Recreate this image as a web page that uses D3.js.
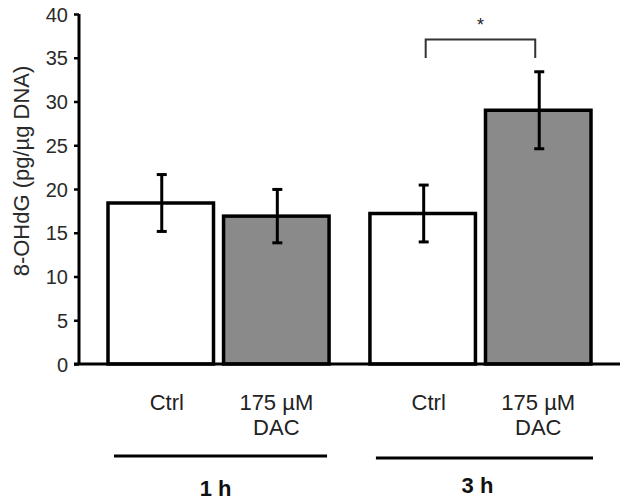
<!DOCTYPE html>
<html><head><meta charset="utf-8">
<script src="https://cdn.jsdelivr.net/npm/d3@7"></script>
<style>body{margin:0;background:#fff}svg{display:block}text{font-family:"Liberation Sans",Arial,sans-serif}</style>
</head><body>
<svg id="c" width="629" height="504"></svg>
<script>
const groups = ["1 h", "3 h"];
const treatments = ["Ctrl", "175 µM DAC"];
const treatmentLines = [["Ctrl"], ["175 µM", "DAC"]];
const means = [[18.4, 16.9], [17.2, 29.0]];
const errors = [[3.25, 3.05], [3.25, 4.4]];
const yTicks = [0, 5, 10, 15, 20, 25, 30, 35, 40];
const fills = ["#ffffff", "#8a8a8a"];
const yLabel = "8-OHdG (pg/µg DNA)";

const svg = d3.select("#c");
const y = d3.scaleLinear().domain([0, 40]).range([364, 14]);
const x0 = d3.scaleBand().domain(groups).range([108, 591]).paddingInner(0.156).paddingOuter(0);
const x1 = d3.scaleBand().domain(treatments).range([0, x0.bandwidth()]).paddingInner(0.087).paddingOuter(0);

// bars
const data = [];
groups.forEach((g, gi) => treatments.forEach((t, ti) => data.push({g, t, ti, v: means[gi][ti], e: errors[gi][ti]})));
const bx = d => x0(d.g) + x1(d.t);
svg.selectAll("rect.bar").data(data).join("rect").attr("class", "bar")
  .attr("x", bx).attr("y", d => y(d.v))
  .attr("width", x1.bandwidth()).attr("height", d => y(0) - y(d.v))
  .attr("fill", d => fills[d.ti]).attr("stroke", "#000").attr("stroke-width", 3.5);

// error bars
const eb = svg.selectAll("g.err").data(data).join("g").attr("class", "err")
  .attr("stroke", "#000").attr("stroke-width", 3);
const ex = d => bx(d) + x1.bandwidth()/2 + 1;
eb.append("line").attr("x1", ex).attr("x2", ex)
  .attr("y1", d => y(d.v + d.e)).attr("y2", d => y(d.v - d.e));
eb.append("line").attr("x1", d => ex(d) - 5).attr("x2", d => ex(d) + 5)
  .attr("y1", d => y(d.v + d.e)).attr("y2", d => y(d.v + d.e));
eb.append("line").attr("x1", d => ex(d) - 5).attr("x2", d => ex(d) + 5)
  .attr("y1", d => y(d.v - d.e)).attr("y2", d => y(d.v - d.e));

// y axis
const yAxis = d3.axisLeft(y).tickValues(yTicks).tickSize(5).tickPadding(6);
const ga = svg.append("g").attr("transform", "translate(79,0)").call(yAxis);
ga.select(".domain").attr("d", `M0,${y(40)}V${y(0)}`).attr("stroke", "#000").attr("stroke-width", 3);
ga.selectAll(".tick line").attr("stroke", "#000").attr("stroke-width", 2.5);
ga.selectAll(".tick text").attr("font-size", 20).attr("fill", "#2a2a2a").attr("dy", "0.36em")
  .attr("font-family", '"Liberation Sans",Arial,sans-serif');

// baseline
svg.append("line").attr("x1", 74).attr("x2", 620).attr("y1", y(0)).attr("y2", y(0))
  .attr("stroke", "#000").attr("stroke-width", 3);

// y label
svg.append("text").attr("transform", `translate(29,171) rotate(-90)`).attr("text-anchor", "middle")
  .attr("font-size", 22).attr("fill", "#2a2a2a").text(yLabel);

// category labels
groups.forEach(g => treatments.forEach((t, ti) => {
  const cx = x0(g) + x1(t) + x1.bandwidth()/2 + (ti === 0 ? 6 : 0);
  const tx = svg.append("text").attr("text-anchor", "middle").attr("font-size", 22).attr("fill", "#222");
  treatmentLines[ti].forEach((ln, li) => tx.append("tspan").attr("x", cx).attr("y", 410 + li * 25).text(ln));
}));

// group lines and labels
groups.forEach((g, gi) => {
  const ly = 456 + gi * 2;
  svg.append("line").attr("x1", x0(g) + 6).attr("x2", x0(g) + x0.bandwidth() - 2 + gi * 4)
    .attr("y1", ly).attr("y2", ly).attr("stroke", "#000").attr("stroke-width", 3);
  svg.append("text").attr("x", x0(g) + x0.bandwidth()/2 - 3).attr("y", 496 - gi * 3)
    .attr("text-anchor", "middle").attr("font-size", 22).attr("font-weight", "bold").attr("fill", "#111").text(g);
});

// significance bracket
const b1 = x0("3 h") + x1("Ctrl") + x1.bandwidth()/2 + 3;
const b2 = x0("3 h") + x1("175 µM DAC") + x1.bandwidth()/2 - 3;
svg.append("path").attr("d", `M${b1},58V39.5H${b2}V58`).attr("fill", "none")
  .attr("stroke", "#333").attr("stroke-width", 2);
svg.append("text").attr("x", (b1 + b2)/2).attr("y", 31).attr("text-anchor", "middle")
  .attr("font-size", 18).attr("fill", "#222").text("*");
</script>
</body></html>
